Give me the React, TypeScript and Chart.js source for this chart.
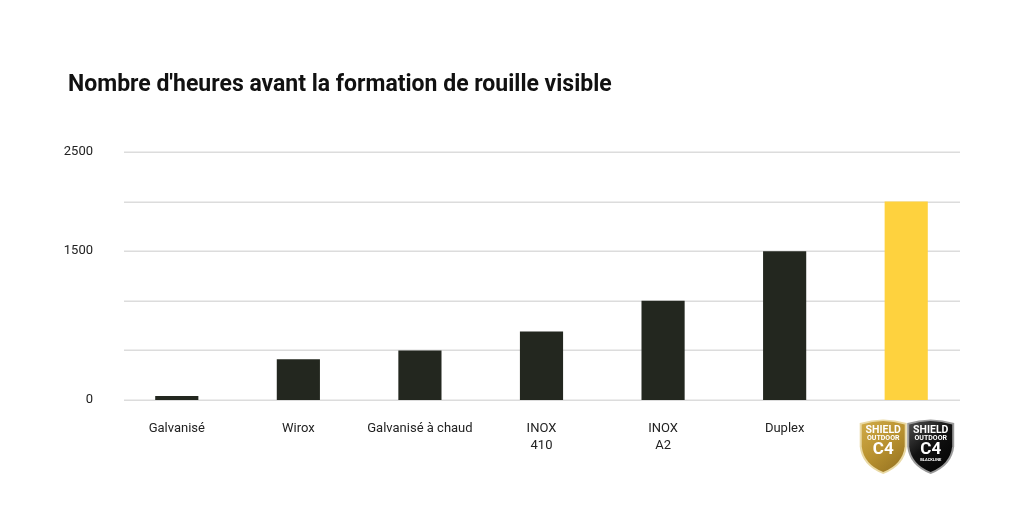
import React, { useEffect, useRef } from "react";
import { Chart, registerables } from "chart.js";

Chart.register(...registerables);

const categories: (string | string[])[] = [
  "Galvanisé",
  "Wirox",
  "Galvanisé à chaud",
  ["INOX", "410"],
  ["INOX", "A2"],
  "Duplex",
  "SHIELD OUTDOOR C4",
];
const hours: number[] = [40, 410, 500, 690, 1000, 1500, 2000];
const barColors: string[] = ["#23271f", "#23271f", "#23271f", "#23271f", "#23271f", "#23271f", "#fed23e"];
const shownYTicks: number[] = [0, 1500, 2500];
const titleText = "Nombre d'heures avant la formation de rouille visible";

const FONT = "Roboto, 'Noto Sans', sans-serif";

function shieldPath(ctx: CanvasRenderingContext2D, cx: number, top: number, w: number, h: number) {
  const l = cx - w / 2;
  const r = cx + w / 2;
  ctx.beginPath();
  ctx.moveTo(l, top + 4);
  ctx.quadraticCurveTo(cx, top - 3, r, top + 4);
  ctx.lineTo(r, top + h * 0.5);
  ctx.quadraticCurveTo(r - 2, top + h * 0.85, cx, top + h);
  ctx.quadraticCurveTo(l + 2, top + h * 0.85, l, top + h * 0.5);
  ctx.closePath();
}

function drawShield(ctx: CanvasRenderingContext2D, cx: number, top: number, gold: boolean) {
  const w = 47;
  const h = 55;
  ctx.save();
  shieldPath(ctx, cx, top, w, h);
  ctx.fillStyle = gold ? "#e9d9a4" : "#9a9a9a";
  ctx.fill();
  shieldPath(ctx, cx, top + 1.5, w - 4, h - 3.5);
  const g = ctx.createLinearGradient(cx - w / 2, top, cx + w / 2, top + h);
  if (gold) {
    g.addColorStop(0, "#d2ad4a");
    g.addColorStop(0.5, "#b8912f");
    g.addColorStop(1, "#8f6d1f");
  } else {
    g.addColorStop(0, "#555555");
    g.addColorStop(0.45, "#111111");
    g.addColorStop(1, "#000000");
  }
  ctx.fillStyle = g;
  ctx.fill();
  ctx.fillStyle = "#ffffff";
  ctx.textAlign = "center";
  ctx.textBaseline = "middle";
  ctx.font = `bold 10.5px ${FONT}`;
  ctx.fillText("SHIELD", cx, top + 11);
  ctx.font = `bold 7px ${FONT}`;
  ctx.fillText("OUTDOOR", cx, top + 19.5);
  ctx.font = `bold 17px ${FONT}`;
  ctx.fillText("C4", cx, top + 30.5);
  if (!gold) {
    ctx.font = `bold 4px ${FONT}`;
    ctx.fillText("BLACKLINE", cx, top + 41);
  }
  ctx.restore();
}

const titlePlugin = {
  id: "leftTitle",
  afterDraw(chart: any) {
    const ctx = chart.ctx as CanvasRenderingContext2D;
    ctx.save();
    ctx.fillStyle = "#111111";
    ctx.font = `bold 23px ${FONT}`;
    ctx.textAlign = "left";
    ctx.textBaseline = "alphabetic";
    ctx.fillText(titleText, 68, 91);
    ctx.restore();
  },
};

const gridPlugin = {
  id: "customGrid",
  beforeDatasetsDraw(chart: any) {
    const ctx = chart.ctx as CanvasRenderingContext2D;
    const y = chart.scales.y;
    ctx.save();
    ctx.strokeStyle = "#dcdcdc";
    ctx.lineWidth = 1.5;
    y.ticks.forEach((t: any) => {
      const py = Math.round(y.getPixelForValue(t.value)) + 0.25;
      ctx.beginPath();
      ctx.moveTo(124, py);
      ctx.lineTo(960, py);
      ctx.stroke();
    });
    ctx.restore();
  },
};

const logoPlugin = {
  id: "logos",
  afterDraw(chart: any) {
    const ctx = chart.ctx as CanvasRenderingContext2D;
    const x = chart.scales.x;
    const cx = x.getPixelForValue(categories.length - 1);
    drawShield(ctx, cx - 23, 419, true);
    drawShield(ctx, cx + 24.5, 419, false);
  },
};

export default function App() {
  const ref = useRef<HTMLCanvasElement | null>(null);
  useEffect(() => {
    if (!ref.current) return;
    const chart = new Chart(ref.current, {
      type: "bar",
      data: {
        labels: categories,
        datasets: [
          {
            data: hours,
            backgroundColor: barColors,
            borderWidth: 0,
            barPercentage: 0.355,
            categoryPercentage: 1,
          },
        ],
      },
      options: {
        animation: false,
        responsive: false,
        maintainAspectRatio: false,
        layout: { padding: { left: 0, right: 57, top: 152, bottom: 0 } },
        plugins: {
          legend: { display: false },
          tooltip: { enabled: false },
          title: { display: false },
        },
        scales: {
          x: {
            offset: true,
            grid: { display: false, drawTicks: false },
            border: { display: false },
            ticks: {
              padding: 20,
              color: "#222222",
              font: { family: FONT, size: 13, lineHeight: 1.3 },
              maxRotation: 0,
              autoSkip: false,
              callback: (_v: any, i: number) => (i === categories.length - 1 ? "" : categories[i]),
            },
            afterFit: (s: any) => {
              s.height = 110;
            },
          },
          y: {
            min: 0,
            max: 2500,
            grid: { display: false, drawTicks: false },
            border: { display: false },
            ticks: {
              stepSize: 500,
              padding: 23,
              color: "#222222",
              font: { family: FONT, size: 13 },
              callback: (v: any) => (shownYTicks.includes(Number(v)) ? String(v) : ""),
            },
            afterFit: (s: any) => {
              s.width = 116;
            },
          },
        },
      },
      plugins: [gridPlugin, logoPlugin, titlePlugin],
    });
    return () => chart.destroy();
  }, []);
  return (
    <div style={{ position: "fixed", left: 0, top: 0, width: 1024, height: 510, background: "#ffffff" }}>
      <canvas ref={ref} width={1024} height={510} style={{ width: 1024, height: 510 }} />
    </div>
  );
}
